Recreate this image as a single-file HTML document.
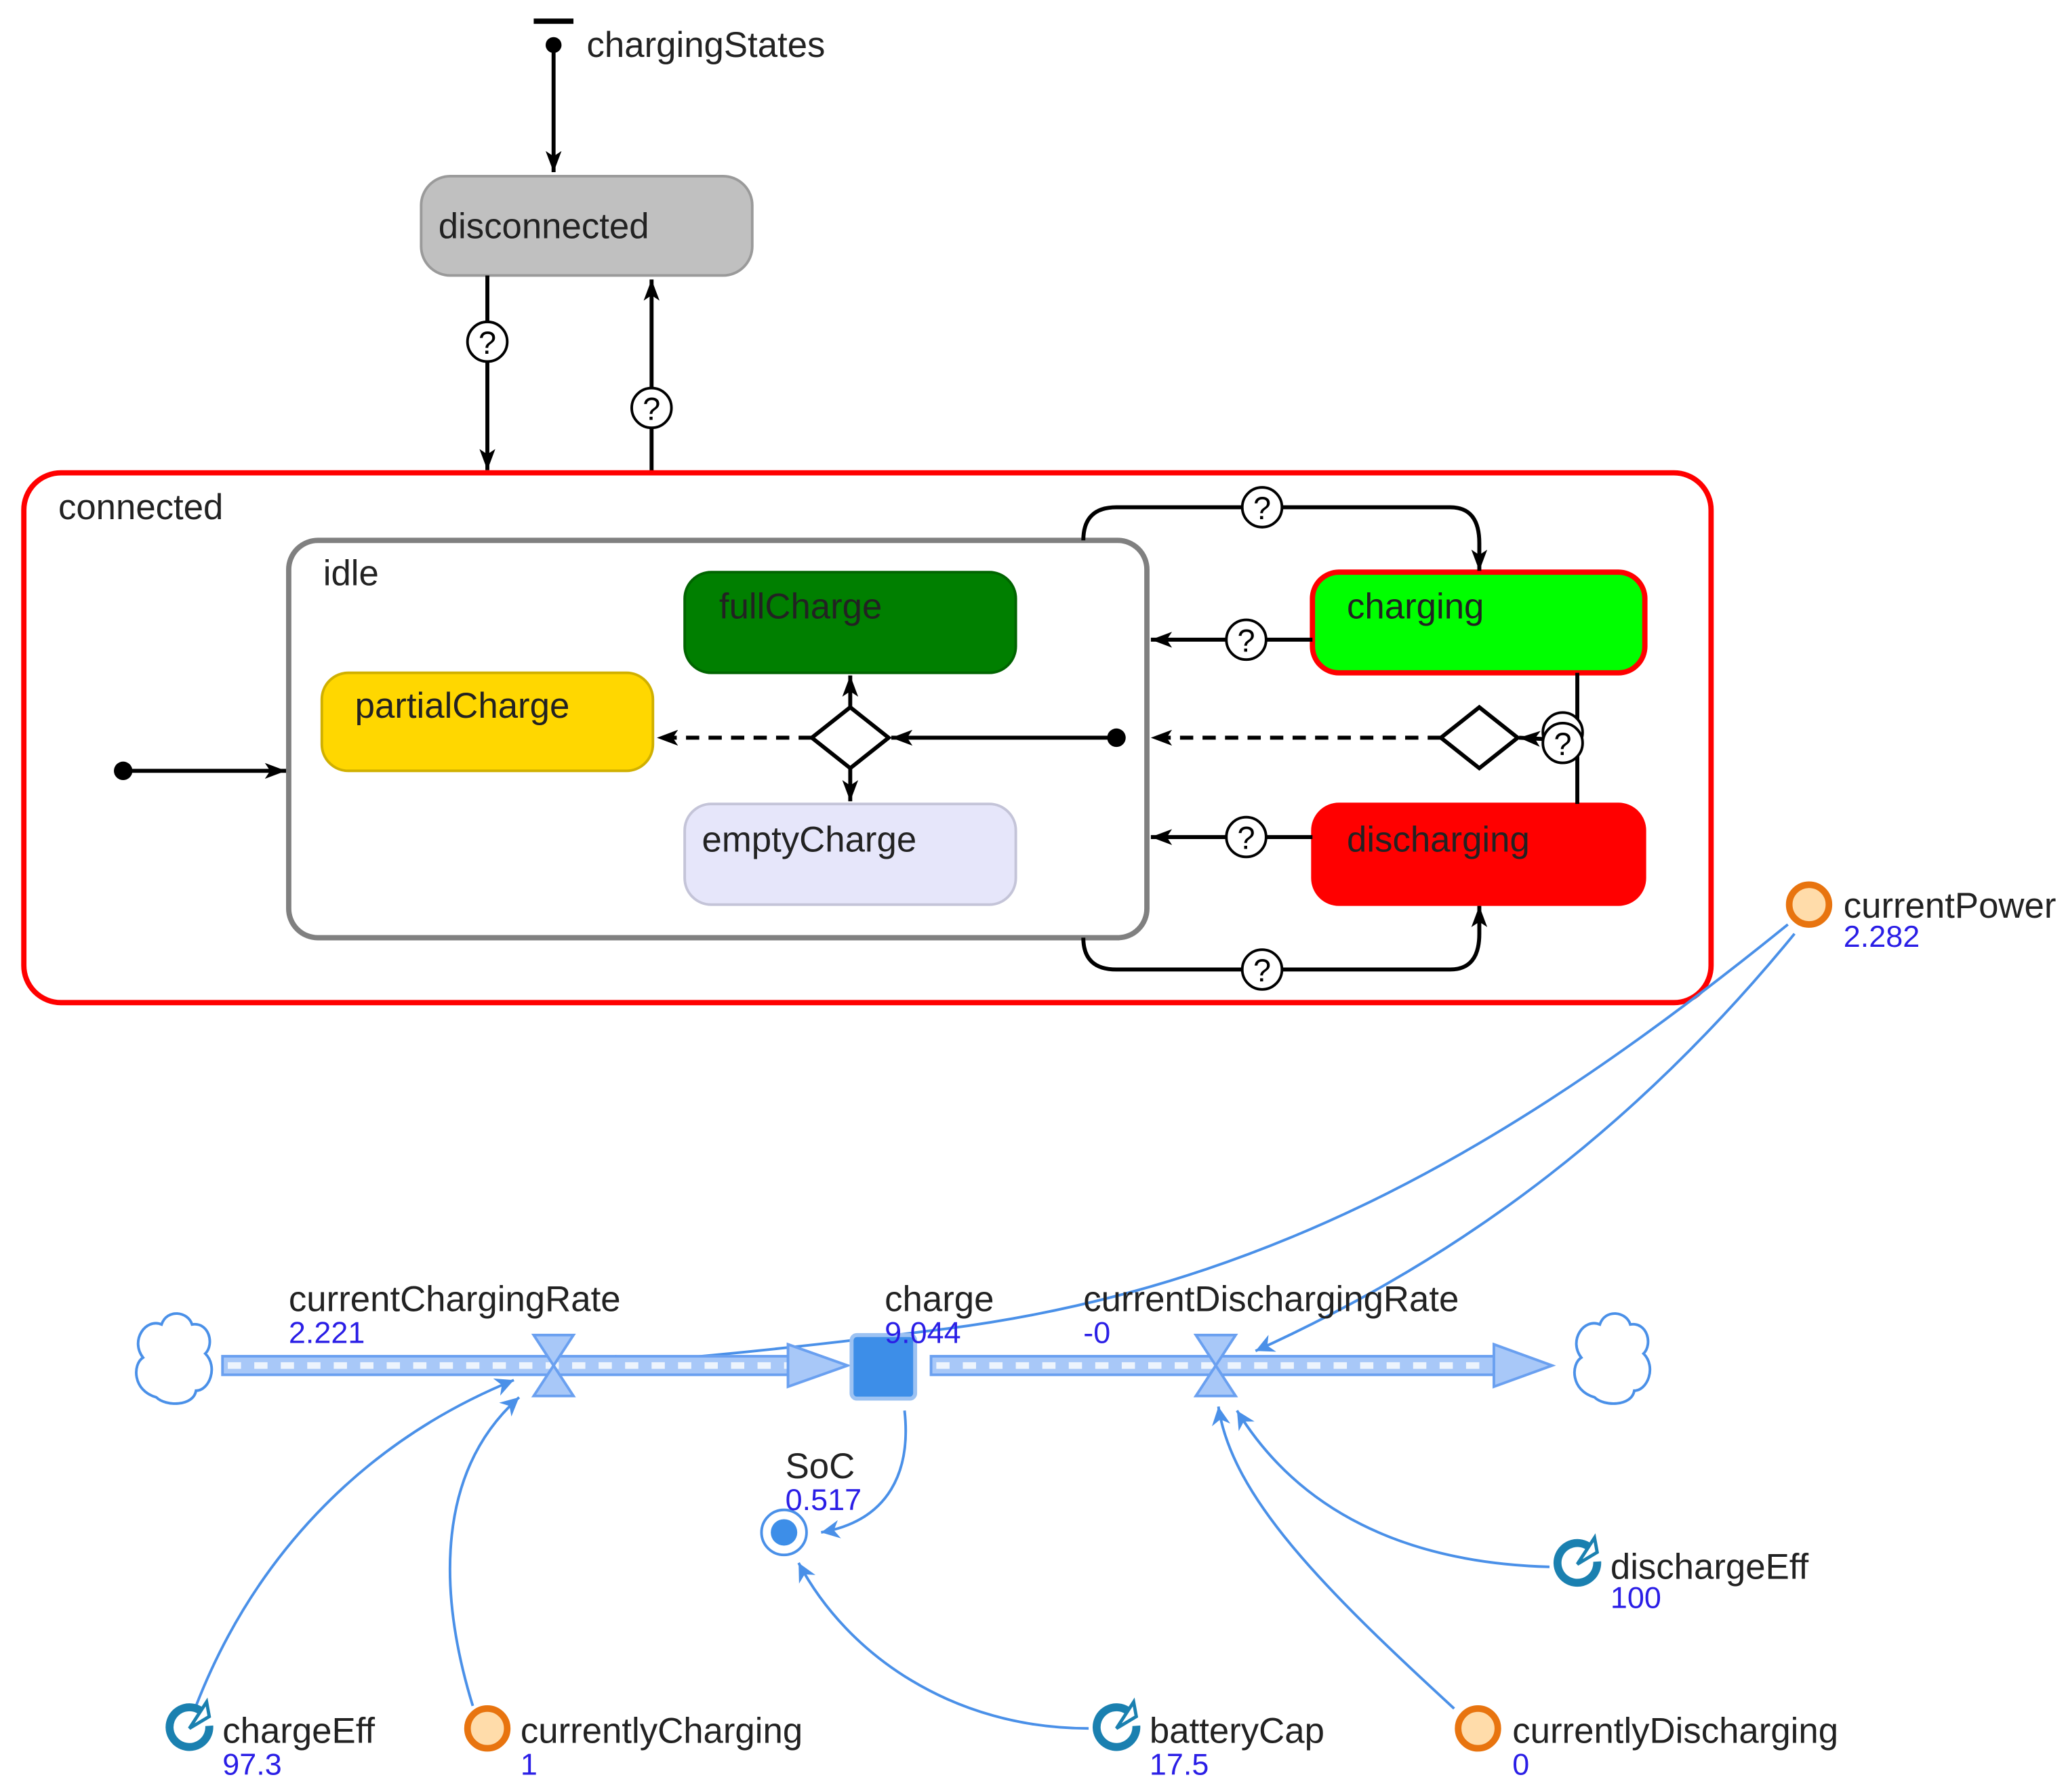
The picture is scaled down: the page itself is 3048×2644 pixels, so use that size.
<!DOCTYPE html>
<html><head><meta charset="utf-8"><style>
html,body{margin:0;padding:0;background:#fff;}
svg{display:block;}
text{font-family:"Liberation Sans",Arial,sans-serif;}
.t{font-size:27px;fill:#222;}
.v{font-size:23px;fill:#2a1ee6;}
.q{font-size:24px;fill:#000;text-anchor:middle;}
</style></head><body>
<svg width="3048" height="2644" viewBox="0 0 1560 1353" preserveAspectRatio="none" xmlns="http://www.w3.org/2000/svg">
<defs>
<marker id="a" viewBox="0 0 16 12" refX="16" refY="6" markerWidth="16" markerHeight="12" markerUnits="userSpaceOnUse" orient="auto"><path d="M0,0 L16,6 L0,12 L4,6 z" fill="#000"/></marker>
<marker id="b" viewBox="0 0 10 10" refX="10" refY="5" markerWidth="16" markerHeight="14" markerUnits="userSpaceOnUse" orient="auto"><path d="M0,0 L10,5 L0,10 L3,5 z" fill="#4a90e8"/></marker>
</defs>
<!-- top -->
<rect x="403" y="14" width="30" height="4" fill="#000"/>
<circle cx="418" cy="34" r="6" fill="#000"/>
<line x1="418" y1="34" x2="418" y2="130" stroke="#000" stroke-width="3" marker-end="url(#a)"/>
<text class="t" x="443" y="43">chargingStates</text>
<rect x="318" y="133" width="250" height="75" rx="22" fill="#c0c0c0" stroke="#9a9a9a" stroke-width="2"/>
<text class="t" x="331" y="180">disconnected</text>
<line x1="368" y1="208" x2="368" y2="355" stroke="#000" stroke-width="3" marker-end="url(#a)"/>
<line x1="492" y1="357" x2="492" y2="211" stroke="#000" stroke-width="3" marker-end="url(#a)"/>
<g fill="#fff" stroke="#000" stroke-width="2">
<circle cx="368" cy="258" r="15"/><circle cx="492" cy="308" r="15"/>
</g>
<text class="q" x="368" y="267">?</text><text class="q" x="492" y="317">?</text>
<!-- connected -->
<rect x="18" y="357" width="1274" height="400" rx="28" fill="none" stroke="#f00" stroke-width="4"/>
<text class="t" x="44" y="392">connected</text>
<rect x="218" y="408" width="648" height="300" rx="22" fill="#fff" stroke="#808080" stroke-width="4"/>
<text class="t" x="244" y="442">idle</text>
<rect x="517" y="432" width="250" height="76" rx="20" fill="#007f00" stroke="#006400" stroke-width="2"/>
<text class="t" x="543" y="467">fullCharge</text>
<rect x="243" y="508" width="250" height="74" rx="20" fill="#ffd700" stroke="#d0b000" stroke-width="2"/>
<text class="t" x="268" y="542">partialCharge</text>
<rect x="517" y="607" width="250" height="76" rx="20" fill="#e6e6fa" stroke="#c4c4d8" stroke-width="2"/>
<text class="t" x="530" y="643">emptyCharge</text>
<!-- internal diamond -->
<line x1="843" y1="557" x2="673" y2="557" stroke="#000" stroke-width="3" marker-end="url(#a)"/>
<circle cx="843" cy="557" r="7" fill="#000"/>
<line x1="613" y1="557" x2="496" y2="557" stroke="#000" stroke-width="3" stroke-dasharray="10,7" marker-end="url(#a)"/>
<line x1="642" y1="535" x2="642" y2="510" stroke="#000" stroke-width="3" marker-end="url(#a)"/>
<line x1="642" y1="580" x2="642" y2="605" stroke="#000" stroke-width="3" marker-end="url(#a)"/>
<polygon points="613,557 642,534 671,557 642,580" fill="#fff" stroke="#000" stroke-width="3"/>
<circle cx="93" cy="582" r="7" fill="#000"/>
<line x1="93" y1="582" x2="216" y2="582" stroke="#000" stroke-width="3" marker-end="url(#a)"/>
<!-- charging/discharging -->
<rect x="991" y="432" width="251" height="76" rx="20" fill="#00ff00" stroke="#f00" stroke-width="4"/>
<text class="t" x="1017" y="467">charging</text>
<rect x="991" y="607" width="251" height="76" rx="20" fill="#ff0000" stroke="#f00" stroke-width="2"/>
<text class="t" x="1017" y="643">discharging</text>
<line x1="991" y1="483" x2="869" y2="483" stroke="#000" stroke-width="3" marker-end="url(#a)"/>
<line x1="991" y1="632" x2="869" y2="632" stroke="#000" stroke-width="3" marker-end="url(#a)"/>
<path d="M818,408 Q818,383 843,383 L1095,383 Q1117,383 1117,410 L1117,431" fill="none" stroke="#000" stroke-width="3" marker-end="url(#a)"/>
<path d="M818,708 Q818,732 843,732 L1095,732 Q1117,732 1117,705 L1117,684" fill="none" stroke="#000" stroke-width="3" marker-end="url(#a)"/>
<line x1="1191" y1="508" x2="1191" y2="607" stroke="#000" stroke-width="3"/>
<line x1="1088" y1="557" x2="869" y2="557" stroke="#000" stroke-width="3" stroke-dasharray="10,7" marker-end="url(#a)"/>
<line x1="1166" y1="558" x2="1147" y2="557" stroke="#000" stroke-width="3" marker-end="url(#a)"/>
<polygon points="1088,557 1117,534 1146,557 1117,580" fill="#fff" stroke="#000" stroke-width="3"/>
<g fill="#fff" stroke="#000" stroke-width="2">
<circle cx="953" cy="383" r="15"/><circle cx="953" cy="732" r="15"/>
<circle cx="941" cy="483" r="15"/><circle cx="941" cy="632" r="15"/>
<circle cx="1180" cy="553" r="15"/><circle cx="1180" cy="561" r="15"/>
</g>
<text class="q" x="953" y="392">?</text><text class="q" x="953" y="741">?</text>
<text class="q" x="941" y="492">?</text><text class="q" x="941" y="641">?</text>
<text class="q" x="1180" y="570">?</text>
<!-- stock & flow -->
<g fill="none" stroke="#4a90e8" stroke-width="2">
<path d="M1350,698 C1150,860 960,975 700,1005 C600,1018 520,1025 452,1031" marker-end="url(#b)"/>
<path d="M1355,705 C1220,870 1080,960 948,1020" marker-end="url(#b)"/>
<path d="M683,1065 C688,1110 672,1148 620,1157" marker-end="url(#b)"/>
<path d="M148,1288 C190,1180 270,1090 388,1042" marker-end="url(#b)"/>
<path d="M357,1288 C330,1200 330,1110 392,1055" marker-end="url(#b)"/>
<path d="M822,1305 C720,1305 640,1250 603,1180" marker-end="url(#b)"/>
<path d="M1098,1290 C1000,1200 930,1130 920,1062" marker-end="url(#b)"/>
<path d="M1170,1183 C1060,1180 980,1140 934,1065" marker-end="url(#b)"/>
</g>
<!-- pipes -->
<rect x="168" y="1024" width="430" height="14" fill="#a8c8f8" stroke="#6aa0f0" stroke-width="2"/>
<line x1="172" y1="1031" x2="595" y2="1031" stroke="#fff" stroke-width="5" stroke-dasharray="10,10" opacity="0.8"/>
<polygon points="595,1015 640,1031 595,1047" fill="#a8c8f8" stroke="#6aa0f0" stroke-width="2"/>
<rect x="703" y="1024" width="428" height="14" fill="#a8c8f8" stroke="#6aa0f0" stroke-width="2"/>
<line x1="707" y1="1031" x2="1128" y2="1031" stroke="#fff" stroke-width="5" stroke-dasharray="10,10" opacity="0.8"/>
<polygon points="1128,1015 1172,1031 1128,1047" fill="#a8c8f8" stroke="#6aa0f0" stroke-width="2"/>
<g fill="#a8c8f8" stroke="#6aa0f0" stroke-width="2">
<polygon points="403,1008 433,1008 418,1031"/><polygon points="403,1054 433,1054 418,1031"/>
<polygon points="903,1008 933,1008 918,1031"/><polygon points="903,1054 933,1054 918,1031"/>
</g>
<!-- clouds -->
<g fill="#fff" stroke="#4a90e8" stroke-width="2">
<path d="M118,1055 C100,1050 100,1030 108,1025 C98,1012 110,995 122,1000 C126,988 142,990 145,1000 C158,998 162,1015 155,1022 C165,1032 158,1050 148,1050 C146,1062 125,1062 118,1055 z"/>
<path d="M1204,1055 C1186,1050 1186,1030 1194,1025 C1184,1012 1196,995 1208,1000 C1212,988 1228,990 1231,1000 C1244,998 1248,1015 1241,1022 C1251,1032 1244,1050 1234,1050 C1232,1062 1211,1062 1204,1055 z"/>
</g>
<rect x="643" y="1008" width="48" height="48" rx="4" fill="#3d8ee8" stroke="#9cc2f2" stroke-width="3"/>
<circle cx="592" cy="1157" r="17" fill="#fff" stroke="#4a90e8" stroke-width="2"/>
<circle cx="592" cy="1157" r="10" fill="#3d8ee8"/>
<text class="t" x="218" y="990">currentChargingRate</text><text class="v" x="218" y="1014">2.221</text>
<text class="t" x="668" y="990">charge</text><text class="v" x="668" y="1014">9.044</text>
<text class="t" x="818" y="990">currentDischargingRate</text><text class="v" x="818" y="1014">-0</text>
<text class="t" x="593" y="1116">SoC</text><text class="v" x="593" y="1140">0.517</text>
<!-- orange nodes -->
<g fill="#ffdcaa" stroke="#e8740f" stroke-width="5">
<circle cx="1366" cy="683" r="15"/><circle cx="368" cy="1305" r="15"/><circle cx="1116" cy="1305" r="15"/>
</g>
<text class="t" x="1392" y="693">currentPower</text><text class="v" x="1392" y="715">2.282</text>
<text class="t" x="393" y="1316">currentlyCharging</text><text class="v" x="393" y="1340">1</text>
<text class="t" x="1142" y="1316">currentlyDischarging</text><text class="v" x="1142" y="1340">0</text>
<!-- teal param nodes -->
<g fill="none" stroke="#1a80b0" stroke-width="6">
<path d="M152,1292 A15,15 0 1 0 158,1303"/><path d="M852,1292 A15,15 0 1 0 858,1303"/><path d="M1200,1168 A15,15 0 1 0 1206,1179"/>
</g>
<g fill="#fff" stroke="#1a80b0" stroke-width="2.5">
<path d="M143,1305 L156,1285 L158,1296 z"/><path d="M843,1305 L856,1285 L858,1296 z"/><path d="M1191,1181 L1204,1161 L1206,1172 z"/>
</g>
<text class="t" x="168" y="1316">chargeEff</text><text class="v" x="168" y="1340">97.3</text>
<text class="t" x="868" y="1316">batteryCap</text><text class="v" x="868" y="1340">17.5</text>
<text class="t" x="1216" y="1192">dischargeEff</text><text class="v" x="1216" y="1214">100</text>
</svg>
</body></html>
